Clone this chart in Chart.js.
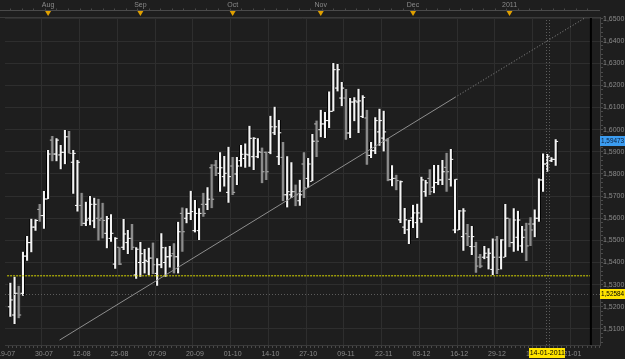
<!DOCTYPE html>
<html>
<head>
<meta charset="utf-8">
<script src="https://cdn.jsdelivr.net/npm/chart.js@4.4.0/dist/chart.umd.min.js"></script>
<style>
  html, body { margin: 0; padding: 0; background: #1e1e1e; }
</style>
</head>
<body>
<canvas id="fxChart" width="625" height="359"></canvas>
<script>
// daily bars, one per trading day
var dates = [
  '20-07','21-07','22-07','23-07','26-07','27-07','28-07','29-07','30-07',
  '02-08','03-08','04-08','05-08','06-08','09-08','10-08','11-08','12-08','13-08','16-08','17-08','18-08','19-08','20-08','23-08','24-08','25-08','26-08','27-08','30-08','31-08',
  '01-09','02-09','03-09','06-09','07-09','08-09','09-09','10-09','13-09','14-09','15-09','16-09','17-09','20-09','21-09','22-09','23-09','24-09','27-09','28-09','29-09','30-09',
  '01-10','04-10','05-10','06-10','07-10','08-10','11-10','12-10','13-10','14-10','15-10','18-10','19-10','20-10','21-10','22-10','25-10','26-10','27-10','28-10','29-10',
  '01-11','02-11','03-11','04-11','05-11','08-11','09-11','10-11','11-11','12-11','15-11','16-11','17-11','18-11','19-11','22-11','23-11','24-11','25-11','26-11','29-11','30-11',
  '01-12','02-12','03-12','06-12','07-12','08-12','09-12','10-12','13-12','14-12','15-12','16-12','17-12','20-12','21-12','22-12','23-12','24-12','27-12','28-12','29-12','30-12','31-12',
  '03-01','04-01','05-01','06-01','07-01','10-01','11-01','12-01','13-01','14-01','17-01','18-01'
];

var opens = [
  1.5200,1.5163,1.5261,1.5261,1.5429,1.5490,1.5560,1.5640,1.5612,1.5687,
  1.5953,1.5890,1.5886,1.5898,1.5968,1.5853,1.5658,1.5658,1.5577,1.5600,
  1.5588,1.5600,1.5600,1.5532,1.5509,1.5393,1.5469,1.5469,1.5490,1.5509,
  1.5344,1.5400,1.5400,1.5404,1.5420,1.5351,1.5390,1.5400,1.5426,1.5440,
  1.5426,1.5622,1.5600,1.5622,1.5544,1.5544,1.5663,1.5663,1.5828,1.5840,
  1.5803,1.5788,1.5717,1.5836,1.5800,1.5860,1.5870,1.5886,1.5878,1.5878,
  1.5898,1.5898,1.5898,1.5986,1.5878,1.5875,1.5706,1.5706,1.5720,1.5679,
  1.5845,1.5780,1.5767,1.6026,1.6000,1.6026,1.6041,1.6083,1.6188,1.6143,
  1.6143,1.5985,1.6125,1.6125,1.6060,1.6053,1.5884,1.5905,1.5990,1.5962,
  1.5950,1.5774,1.5780,1.5593,1.5560,1.5548,1.5601,1.5580,1.5600,1.5720,
  1.5780,1.5740,1.5761,1.5773,1.5830,1.5776,1.5547,1.5547,1.5517,1.5530,
  1.5472,1.5472,1.5424,1.5424,1.5424,1.5369,1.5502,1.5424,1.5424,1.5600,
  1.5490,1.5514,1.5475,1.5547,1.5574,1.5574,1.5600,1.5773,1.5845,1.5860,
  1.5866
];
var highs = [
  1.5309,1.5336,1.5295,1.5449,1.5520,1.5598,1.5595,1.5664,1.5723,1.5908,
  1.5971,1.5961,1.5931,1.5999,1.5994,1.5908,1.5863,1.5715,1.5675,1.5700,
  1.5693,1.5688,1.5670,1.5610,1.5618,1.5514,1.5469,1.5597,1.5547,1.5574,
  1.5469,1.5493,1.5461,1.5467,1.5490,1.5419,1.5532,1.5471,1.5475,1.5487,
  1.5584,1.5649,1.5645,1.5724,1.5682,1.5645,1.5715,1.5740,1.5844,1.5863,
  1.5898,1.5881,1.5923,1.5877,1.5877,1.5931,1.5938,1.6018,1.5966,1.5961,
  1.5919,1.5901,1.6063,1.6104,1.6044,1.5944,1.5880,1.5853,1.5752,1.5774,
  1.5898,1.5872,1.5981,1.6041,1.6090,1.6080,1.6173,1.6301,1.6297,1.6215,
  1.6184,1.6143,1.6146,1.6185,1.6155,1.6090,1.5944,1.6056,1.6095,1.6086,
  1.5962,1.5839,1.5797,1.5770,1.5646,1.5593,1.5661,1.5666,1.5788,1.5773,
  1.5821,1.5840,1.5840,1.5863,1.5896,1.5913,1.5776,1.5637,1.5645,1.5574,
  1.5565,1.5494,1.5438,1.5475,1.5464,1.5509,1.5520,1.5505,1.5664,1.5600,
  1.5645,1.5634,1.5565,1.5580,1.5604,1.5640,1.5780,1.5893,1.5890,1.5875,
  1.5957
];
var lows = [
  1.5155,1.5122,1.5148,1.5250,1.5408,1.5446,1.5544,1.5584,1.5553,1.5687,
  1.5857,1.5857,1.5821,1.5844,1.5893,1.5711,1.5630,1.5565,1.5565,1.5568,
  1.5555,1.5499,1.5509,1.5464,1.5494,1.5372,1.5389,1.5457,1.5438,1.5457,
  1.5327,1.5336,1.5351,1.5344,1.5348,1.5295,1.5374,1.5336,1.5377,1.5351,
  1.5351,1.5449,1.5577,1.5592,1.5536,1.5502,1.5607,1.5637,1.5645,1.5791,
  1.5720,1.5743,1.5670,1.5705,1.5750,1.5833,1.5828,1.5833,1.5818,1.5871,
  1.5758,1.5773,1.5889,1.5976,1.5841,1.5677,1.5649,1.5691,1.5654,1.5657,
  1.5691,1.5737,1.5767,1.5877,1.5966,1.5962,1.6008,1.6083,1.6173,1.6106,
  1.5955,1.5962,1.6038,1.5985,1.6053,1.5842,1.5872,1.5890,1.5928,1.5902,
  1.5767,1.5744,1.5726,1.5579,1.5529,1.5484,1.5556,1.5511,1.5580,1.5697,
  1.5705,1.5713,1.5750,1.5750,1.5720,1.5743,1.5532,1.5547,1.5453,1.5475,
  1.5434,1.5354,1.5374,1.5415,1.5369,1.5344,1.5348,1.5369,1.5424,1.5469,
  1.5449,1.5453,1.5444,1.5407,1.5475,1.5514,1.5584,1.5720,1.5810,1.5854,
  1.5837
];
var closes = [
  1.5231,1.5261,1.5163,1.5429,1.5490,1.5560,1.5590,1.5612,1.5687,1.5890,
  1.5890,1.5953,1.5898,1.5968,1.5893,1.5893,1.5853,1.5577,1.5592,1.5663,
  1.5663,1.5592,1.5590,1.5598,1.5532,1.5509,1.5393,1.5529,1.5509,1.5469,
  1.5460,1.5440,1.5410,1.5420,1.5390,1.5390,1.5467,1.5426,1.5430,1.5426,
  1.5539,1.5539,1.5622,1.5630,1.5622,1.5622,1.5622,1.5686,1.5686,1.5828,
  1.5828,1.5803,1.5788,1.5717,1.5836,1.5889,1.5889,1.5961,1.5961,1.5900,
  1.5810,1.5810,1.6013,1.6013,1.5986,1.5706,1.5720,1.5720,1.5706,1.5706,
  1.5737,1.5845,1.5948,1.5948,1.6026,1.6041,1.6083,1.6271,1.6271,1.6188,
  1.5985,1.6125,1.6130,1.6130,1.6146,1.5884,1.5905,1.6041,1.6041,1.5990,
  1.5774,1.5780,1.5770,1.5765,1.5593,1.5590,1.5624,1.5624,1.5773,1.5760,
  1.5720,1.5761,1.5773,1.5810,1.5810,1.5866,1.5776,1.5633,1.5633,1.5517,
  1.5517,1.5384,1.5384,1.5442,1.5442,1.5424,1.5369,1.5502,1.5600,1.5490,
  1.5592,1.5592,1.5514,1.5475,1.5547,1.5600,1.5773,1.5845,1.5878,1.5866,
  1.5947
];

// axis labels
var xTickLabels = ['19-07','30-07','12-08','25-08','07-09','20-09','01-10','14-10','27-10','09-11','22-11','03-12','16-12','29-12','11-01','21-01'];
var monthLabels = ['Aug','Sep','Oct','Nov','Dec','2011'];
var yLabels = [1.51,1.52,1.53,1.54,1.55,1.56,1.57,1.58,1.59,1.60,1.61,1.62,1.63,1.64,1.65];

// drawn studies / cursor
var supportLevel = 1.5340;
var trendLine = [[11.75, 1.5050], [106, 1.6146], [137.25, 1.6508]];
var lastPrice = 1.59473;
var cursorPrice = 1.52584;
var cursorIndex = 128;
var cursorLabel = '14-01-2011';

// view window (bar index / price)
var xMin = -0.775, xMax = 140.07, dataEdge = 138.4;
var yMin = 1.50275, yMax = 1.6509;

var C = { bg: '#1e1e1e', grid: '#2e2e2e', text: '#8a8a8a', tick: '#4a4a4a', up: '#f4f4f4', down: '#8c8c8c' };
var FONT = 'Liberation Sans, Arial, sans-serif';
Chart.defaults.font.family = FONT;
Chart.defaults.font.size = 7;
Chart.defaults.color = C.text;

var isDown = function (i) { return closes[i] < opens[i]; };
var bars = dates.map(function (d, i) { return { x: i, y: [lows[i], highs[i]] }; });
var openPts = opens.map(function (v, i) { return { x: i - 0.35, y: v }; });
var closePts = closes.map(function (v, i) { return { x: i + 0.35, y: v }; });

// first trading day of each month -> top axis markers
var monthStarts = [];
dates.forEach(function (d, i) {
  if (i > 0 && d.slice(3) !== dates[i - 1].slice(3)) monthStarts.push(i);
});

function tickVal(c) { return c && c.tick ? c.tick.value : null; }
function isMajorY(v) { return v !== null && Math.abs(v * 100 - Math.round(v * 100)) < 1e-6; }
function isMajorX(v) { return v !== null && (Math.round(v) + 1) % 9 === 0; }
function fmtPrice(v, n) { return v.toFixed(n).replace('.', ','); }

function priceBox(ctx, area, yScale, value, bg, fg) {
  var y = Math.round(yScale.getPixelForValue(value));
  ctx.fillStyle = bg;
  ctx.fillRect(area.right, y - 5, 25, 10);
  ctx.fillStyle = fg;
  ctx.font = '6.4px ' + FONT;
  ctx.textAlign = 'left';
  ctx.textBaseline = 'middle';
  ctx.fillText(fmtPrice(value, 5), area.right + 1, y + 0.5);
}

var extras = {
  id: 'extras',
  afterDatasetsDraw: function (chart) {
    var ctx = chart.ctx, a = chart.chartArea;
    var xs = chart.scales.x, ys = chart.scales.y;
    ctx.save();
    // crosshair
    ctx.strokeStyle = '#5c5c5c';
    ctx.lineWidth = 1;
    ctx.setLineDash([1, 2]);
    [cursorIndex - 0.4, cursorIndex + 0.4].forEach(function (v) {
      var x = Math.round(xs.getPixelForValue(v)) + 0.5;
      ctx.beginPath(); ctx.moveTo(x, a.top); ctx.lineTo(x, a.bottom); ctx.stroke();
    });
    var cy = Math.round(ys.getPixelForValue(cursorPrice)) + 0.5;
    ctx.beginPath(); ctx.moveTo(a.left, cy); ctx.lineTo(a.right, cy); ctx.stroke();
    ctx.setLineDash([]);
    // right edge of the data pane
    var ex = xs.getPixelForValue(dataEdge);
    ctx.strokeStyle = '#000';
    ctx.lineWidth = 2;
    ctx.beginPath(); ctx.moveTo(ex, a.top); ctx.lineTo(ex, a.bottom); ctx.stroke();
    ctx.restore();
  },
  afterDraw: function (chart) {
    var ctx = chart.ctx, a = chart.chartArea;
    var xs = chart.scales.x, ys = chart.scales.y, top = chart.scales.xTop;
    ctx.save();
    // top band: month names, rail, small ticks, month markers
    var rail = top.bottom - 6.5;
    ctx.font = '7px ' + FONT;
    ctx.fillStyle = C.text;
    ctx.textAlign = 'center';
    ctx.textBaseline = 'middle';
    monthStarts.forEach(function (i, k) {
      ctx.fillText(monthLabels[k], xs.getPixelForValue(i), top.top + 5);
    });
    ctx.strokeStyle = '#4a4a4a';
    ctx.lineWidth = 1;
    ctx.beginPath(); ctx.moveTo(0, rail); ctx.lineTo(a.right, rail); ctx.stroke();
    for (var v = 0; v <= xMax; v += 2.75) {
      var tx = Math.round(xs.getPixelForValue(v)) + 0.5;
      ctx.beginPath(); ctx.moveTo(tx, rail - 2); ctx.lineTo(tx, rail); ctx.stroke();
    }
    ctx.strokeStyle = '#3a3a3a';
    ctx.beginPath(); ctx.moveTo(0, a.top + 0.5); ctx.lineTo(a.right, a.top + 0.5); ctx.stroke();
    ctx.fillStyle = '#e0a000';
    monthStarts.forEach(function (i) {
      var mx = xs.getPixelForValue(i);
      ctx.beginPath();
      ctx.moveTo(mx - 3, rail + 0.5); ctx.lineTo(mx + 3, rail + 0.5); ctx.lineTo(mx, rail + 5.5);
      ctx.closePath(); ctx.fill();
    });
    // value tags on the price axis
    priceBox(ctx, a, ys, lastPrice, '#3b9cf0', '#0b1d3a');
    priceBox(ctx, a, ys, cursorPrice, '#ffe400', '#000');
    // cursor date tag
    var dx = xs.getPixelForValue(cursorIndex);
    ctx.font = '7px ' + FONT;
    var w = ctx.measureText(cursorLabel).width + 1;
    ctx.fillStyle = '#ffe400';
    ctx.fillRect(Math.round(dx - w / 2), a.bottom + 3, Math.round(w), 10);
    ctx.fillStyle = '#000';
    ctx.textAlign = 'center';
    ctx.textBaseline = 'middle';
    ctx.fillText(cursorLabel, dx, a.bottom + 8.5);
    ctx.restore();
  }
};

var ctx = document.getElementById('fxChart');
var chart = new Chart(ctx, {
  data: {
    datasets: [
      {
        type: 'line', label: 'support', order: 1, xAxisID: 'x',
        data: [{ x: xMin, y: supportLevel }, { x: dataEdge, y: supportLevel }],
        borderColor: '#d6d600', borderWidth: 1, borderDash: [2, 1], pointRadius: 0
      },
      {
        type: 'line', label: 'trend', order: 1, xAxisID: 'x',
        data: [{ x: trendLine[0][0], y: trendLine[0][1] }, { x: trendLine[1][0], y: trendLine[1][1] }],
        borderColor: '#8e8e8e', borderWidth: 1, pointRadius: 0
      },
      {
        type: 'line', label: 'trend ext', order: 1, xAxisID: 'x',
        data: [{ x: trendLine[1][0], y: trendLine[1][1] }, { x: trendLine[2][0], y: trendLine[2][1] }],
        borderColor: '#8e8e8e', borderWidth: 1, borderDash: [1, 2], pointRadius: 0
      },
      {
        type: 'line', label: 'open', order: 2, showLine: false, xAxisID: 'x',
        data: openPts, pointStyle: 'line', pointRadius: 1, pointBorderWidth: 1,
        pointBorderColor: function (c) { return isDown(c.dataIndex) ? '#b8b8b8' : '#ffffff'; }
      },
      {
        type: 'line', label: 'close', order: 2, showLine: false, xAxisID: 'x',
        data: closePts, pointStyle: 'line', pointRadius: 1, pointBorderWidth: 1,
        pointBorderColor: function (c) { return isDown(c.dataIndex) ? '#b8b8b8' : '#ffffff'; }
      },
      {
        type: 'bar', label: 'EUR/USD', order: 3, xAxisID: 'x',
        data: bars, barThickness: 3.5, grouped: false,
        backgroundColor: function (c) { return isDown(c.dataIndex) ? C.down : C.up; },
        borderColor: function (c) { return isDown(c.dataIndex) ? 'rgba(60,60,60,0.6)' : '#000'; },
        borderWidth: { left: 1, right: 1, top: 0, bottom: 0 },
        borderSkipped: false
      }
    ]
  },
  options: {
    responsive: false,
    animation: false,
    events: [],
    layout: { padding: 0 },
    plugins: { legend: { display: false }, tooltip: { enabled: false } },
    scales: {
      x: {
        type: 'linear', position: 'bottom', min: xMin, max: xMax,
        afterBuildTicks: function (s) {
          var t = [];
          for (var v = -1; v <= Math.floor(xMax); v++) t.push({ value: v });
          s.ticks = t;
        },
        afterFit: function (s) { s.height = 14; s.paddingLeft = 0; s.paddingRight = 0; },
        grid: {
          color: function (c) { return isMajorX(tickVal(c)) ? C.grid : 'transparent'; },
          tickColor: C.tick, tickLength: 3
        },
        border: { color: '#3a3a3a' },
        ticks: {
          autoSkip: false, maxRotation: 0, padding: 2, color: C.text,
          callback: function (v) { return isMajorX(v) ? (xTickLabels[(Math.round(v) + 1) / 9] || '') : ''; }
        }
      },
      xTop: {
        type: 'linear', position: 'top', min: xMin, max: xMax,
        afterBuildTicks: function (s) { s.ticks = monthStarts.map(function (v) { return { value: v }; }); },
        afterFit: function (s) { s.height = 17; s.paddingLeft = 0; s.paddingRight = 0; },
        grid: { display: false },
        border: { display: false },
        ticks: { display: false }
      },
      y: {
        type: 'linear', position: 'right', min: yMin, max: yMax,
        afterBuildTicks: function (s) {
          var t = [];
          for (var k = 752; k <= 825; k++) t.push({ value: k * 0.002 });
          s.ticks = t;
        },
        afterFit: function (s) { s.width = 25; s.paddingTop = 0; s.paddingBottom = 0; },
        grid: {
          color: function (c) { return isMajorY(tickVal(c)) ? C.grid : 'transparent'; },
          tickColor: C.tick, tickLength: 3
        },
        border: { color: '#444' },
        ticks: {
          autoSkip: false, padding: 0, color: C.text,
          callback: function (v) { return isMajorY(v) && yLabels.indexOf(Math.round(v * 100) / 100) >= 0 ? fmtPrice(v, 4) : ''; }
        }
      }
    }
  },
  plugins: [extras]
});
</script>
</body>
</html>
